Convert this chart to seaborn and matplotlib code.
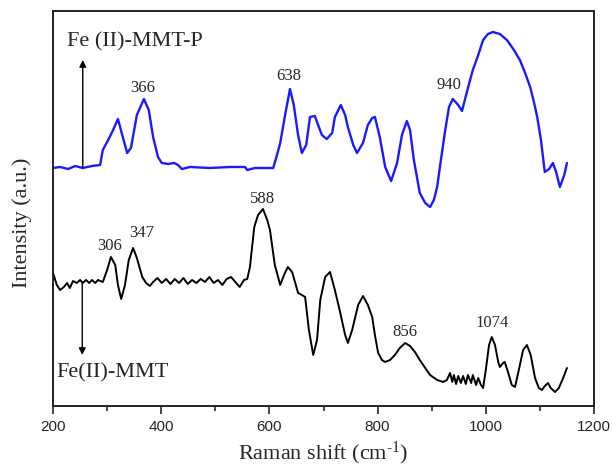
import numpy as np
import pandas as pd
import matplotlib
matplotlib.use("Agg")
import matplotlib.pyplot as plt
from matplotlib.ticker import MultipleLocator
import seaborn as sns

# Fe(II)-MMT-P spectrum (upper, blue)
shift_p = [200, 213, 228, 241, 255, 272, 287, 292, 302, 311, 320, 328, 337, 344, 355,
           368, 377, 385, 394, 401, 413, 424, 431, 438, 453, 490, 527, 555, 559, 573,
           607, 614, 620, 629, 638, 645, 653, 660, 668, 675, 684, 690, 697, 706, 716,
           721, 732, 740, 745, 755, 762, 773, 782, 790, 795, 804, 814, 825, 836, 845,
           854, 860, 867, 878, 888, 897, 904, 910, 917, 925, 932, 939, 949, 956, 965,
           976, 986, 995, 1004, 1013, 1026, 1039, 1052, 1063, 1072, 1082, 1089, 1095,
           1102, 1109, 1117, 1124, 1130, 1137, 1145, 1150]
inten_p = [238, 239, 237, 240, 238, 240, 241, 256, 266, 276, 287, 271, 253, 258, 291,
           307, 296, 269, 249, 243, 242, 243, 241, 237, 239, 238, 239, 239, 236, 238,
           238, 251, 263, 291, 317, 301, 271, 253, 261, 289, 290, 281, 271, 267, 273,
           289, 301, 291, 279, 261, 253, 263, 281, 288, 289, 269, 239, 225, 243, 271,
           285, 276, 246, 213, 203, 199, 206, 219, 246, 276, 299, 307, 301, 295, 314,
           336, 351, 366, 372, 374, 372, 366, 356, 346, 334, 319, 304, 289,
           266, 234, 237, 243, 234, 219, 231, 243]

# Fe(II)-MMT spectrum (lower, black)
shift_m = [200, 207, 213, 220, 226, 231, 237, 244, 250, 255, 261, 267, 272, 278, 283,
           292, 300, 307, 315, 320, 326, 333, 340, 348, 355, 365, 372, 379,
           385, 393, 401, 409, 417, 425, 433, 441, 449, 457, 465, 473, 481, 489, 497,
           505, 513, 521, 529, 537, 545, 553, 559,
           564, 572, 579, 588, 596, 601, 610, 620, 627, 634, 642, 653, 660, 666, 673,
           681, 688, 694, 703, 712, 721, 731, 740, 745, 753, 764, 773, 782, 790, 795,
           801, 808, 814, 823, 832, 841, 851, 860, 869, 878, 888, 897, 910, 921, 928,
           934, 938, 941, 945, 949, 954, 958, 963, 967, 973, 976, 982, 986, 991, 995,
           1000, 1006, 1011, 1017, 1023, 1026, 1032, 1035, 1041, 1048, 1054, 1061, 1069,
           1076, 1083, 1091, 1098, 1104, 1109, 1115, 1120, 1128, 1135, 1143, 1150]
inten_m = [133, 121, 116, 119, 123, 118, 125, 123, 126, 123, 126, 123, 126, 123, 126,
           124, 136, 149, 141, 121, 107, 121, 146, 158, 148, 129, 123, 120,
           124, 128, 123, 127, 122, 127, 123, 128, 122, 126, 123, 127, 124, 129, 123,
           126, 121, 127, 129, 124, 119, 126, 127,
           139, 179, 191, 197, 186, 176, 141, 121, 131, 139, 134, 113, 111, 109, 76,
           51, 66, 106, 129, 134, 116, 93, 71, 63, 76, 101, 110, 101, 89, 71,
           53, 46, 44, 46, 51, 58, 63, 60, 54, 46, 38, 31, 26, 24, 26,
           33, 24, 31, 22, 30, 23, 30, 22, 31, 23, 31, 21, 28, 21, 18,
           36, 61, 69, 61, 44, 39, 43, 44, 34, 21, 19, 36, 56,
           61, 51, 28, 18, 16, 20, 23, 18, 14, 18, 28, 38]

# peak labels: (text, x, y)
peak_text = ["366", "638", "940", "588", "306", "347", "856", "1074"]
peak_x = [366, 636, 932, 588, 304, 363, 851, 1011]
peak_y = [318, 330, 321, 207, 160, 173, 74, 83]

x_ticks = [200, 400, 600, 800, 1000, 1200]

df_p = pd.DataFrame({"shift": shift_p, "intensity": inten_p})
df_m = pd.DataFrame({"shift": shift_m, "intensity": inten_m})

sns.set_style("ticks")
plt.rcParams["font.family"] = ["Liberation Serif", "DejaVu Serif"]
plt.rcParams["mathtext.fontset"] = "custom"
plt.rcParams["mathtext.rm"] = "Liberation Serif"
plt.rcParams["mathtext.it"] = "Liberation Serif:italic"

fig = plt.figure(figsize=(6.13, 4.68), dpi=100)
ax = fig.add_axes([0.0865, 0.1325, 0.8825, 0.844])

sns.lineplot(data=df_p, x="shift", y="intensity", ax=ax, color="#1a1aff",
             linewidth=1.7, sort=False)
sns.lineplot(data=df_m, x="shift", y="intensity", ax=ax, color="black",
             linewidth=1.4, sort=False)

for t, x, y in zip(peak_text, peak_x, peak_y):
    ax.text(x, y, t, ha="center", va="center", fontsize=12)

ax.text(226, 364, "Fe (II)-MMT-P", ha="left", va="center", fontsize=16)
ax.text(207, 33, "Fe(II)-MMT", ha="left", va="center", fontsize=16)

ax.annotate("", xy=(255, 346), xytext=(255, 238),
            arrowprops=dict(arrowstyle="-|>", color="black", lw=1.0,
                            mutation_scale=10, shrinkA=0, shrinkB=0))
ax.annotate("", xy=(254, 51), xytext=(254, 124),
            arrowprops=dict(arrowstyle="-|>", color="black", lw=1.0,
                            mutation_scale=10, shrinkA=0, shrinkB=0))

ax.set_xlim(200, 1200)
ax.set_ylim(0, 395)
ax.set_yticks([])
ax.set_xticks(x_ticks, [str(v) for v in x_ticks],
              fontfamily="Liberation Sans", fontsize=11)
ax.xaxis.set_minor_locator(MultipleLocator(100))
ax.tick_params(axis="x", which="major", direction="out", length=6, width=1.2, pad=4)
ax.tick_params(axis="x", which="minor", direction="out", length=3.5, width=1.2)
for s in ax.spines.values():
    s.set_visible(True)
    s.set_linewidth(1.4)
    s.set_color("#222222")

ax.set_xlabel("Raman shift (cm$^{\\text{-1}}$)", fontsize=16, labelpad=4)
ax.set_ylabel("Intensity (a.u.)", fontsize=16)
ax.yaxis.set_label_coords(-0.038, 0.463)

fig.savefig("out.png", dpi=100)
